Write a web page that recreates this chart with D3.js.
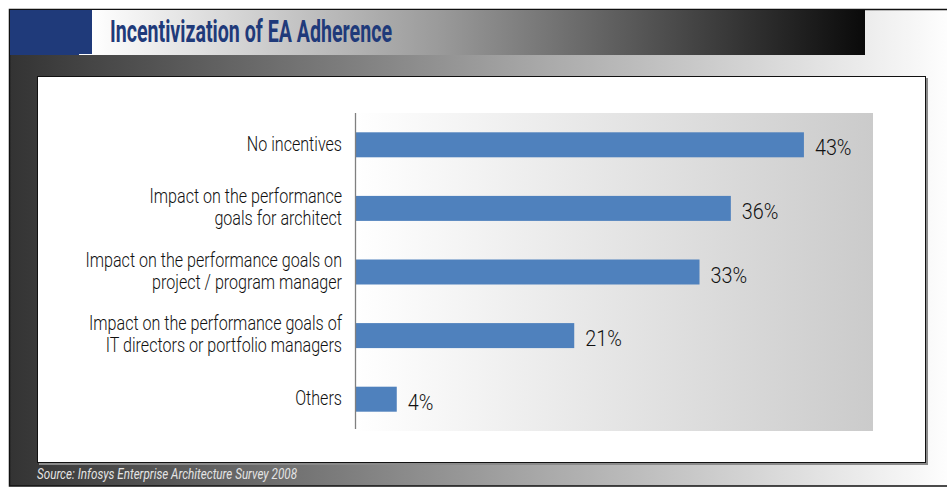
<!DOCTYPE html>
<html>
<head>
<meta charset="utf-8">
<script src="https://cdn.jsdelivr.net/npm/d3@7"></script>
<style>
  html, body { margin: 0; padding: 0; background: #ffffff; }
  svg { display: block; }
  .cond { font-family: Roboto, "Liberation Sans", "DejaVu Sans", sans-serif; }
</style>
</head>
<body>
<svg id="chart" width="947" height="487"></svg>
<script>
// Survey answers, top to bottom
const categories = [
  "No incentives",
  "Impact on the performance goals for architect",
  "Impact on the performance goals on project / program manager",
  "Impact on the performance goals of IT directors or portfolio managers",
  "Others"
];
// How each category label wraps onto lines
const categoryLines = [
  ["No incentives"],
  ["Impact on the performance", "goals for architect"],
  ["Impact on the performance goals on", "project / program manager"],
  ["Impact on the performance goals of", "IT directors or portfolio managers"],
  ["Others"]
];
// Share of respondents (%)
const values = [43, 36, 33, 21, 4];
const valueLabels = ["43%", "36%", "33%", "21%", "4%"];

const titleText = "Incentivization of EA Adherence";
const sourceText = "Source: Infosys Enterprise Architecture Survey 2008";

// Horizontal squeeze that gives the regular face a condensed look
const LABEL_CONDENSE = 0.825;
const VALUE_CONDENSE = 0.92;
function condense(sel, factor) {
  sel.each(function () {
    const w = this.getComputedTextLength();
    d3.select(this).attr("textLength", w * factor).attr("lengthAdjust", "spacingAndGlyphs");
  });
}

const svg = d3.select("#chart");
const defs = svg.append("defs");

function hGradient(id, stops) {
  const g = defs.append("linearGradient").attr("id", id)
    .attr("x1", "0%").attr("y1", "0%").attr("x2", "100%").attr("y2", "0%");
  stops.forEach(([o, c]) => g.append("stop").attr("offset", o).attr("stop-color", c));
}
hGradient("bgGrad", [["0%", "#333333"], ["55%", "#a6a6a6"], ["100%", "#ffffff"]]);
hGradient("titleGrad", [["0%", "#ffffff"], ["45%", "#9a9a9a"], ["100%", "#0a0a0a"]]);
hGradient("plotGrad", [["0%", "#ffffff"], ["100%", "#cbcbcb"]]);

// Outer frame with the dark-to-light backdrop
svg.append("rect").attr("x", 9).attr("y", 9).attr("width", 946).attr("height", 477)
  .attr("fill", "url(#bgGrad)");
svg.append("path").attr("d", "M947,9.5 H9.5 V486 H947")
  .attr("fill", "none").attr("stroke", "#111").attr("stroke-width", 1.5);

// Title band
svg.append("rect").attr("x", 92).attr("y", 10).attr("width", 773).attr("height", 45)
  .attr("fill", "url(#titleGrad)");
svg.append("rect").attr("x", 10).attr("y", 10).attr("width", 82).attr("height", 45)
  .attr("fill", "#1f3a7a");
svg.append("rect").attr("x", 79).attr("y", 54).attr("width", 13).attr("height", 1)
  .attr("fill", "#ffffff");
svg.append("text").attr("class", "cond")
  .attr("x", 110).attr("y", 42)
  .attr("font-size", 31).attr("font-weight", "bold").attr("fill", "#1f3a7a")
  .attr("textLength", 282).attr("lengthAdjust", "spacingAndGlyphs")
  .text(titleText);

// White panel with a soft shadow
svg.append("rect").attr("x", 39).attr("y", 78).attr("width", 889).attr("height", 387)
  .attr("fill", "#8a8a8a");
svg.append("rect").attr("x", 37.5).attr("y", 76.5).attr("width", 888).attr("height", 386)
  .attr("fill", "#ffffff").attr("stroke", "#111").attr("stroke-width", 1);

// Source note
svg.append("text").attr("class", "cond")
  .attr("x", 37).attr("y", 479)
  .attr("font-size", 14.5).attr("font-style", "italic").attr("fill", "#e4e4e4")
  .attr("textLength", 260).attr("lengthAdjust", "spacingAndGlyphs")
  .text(sourceText);

// Plot area
const plot = { left: 355, top: 113, right: 873, bottom: 431 };

const x = d3.scaleLinear().domain([0, 50]).range([plot.left, plot.left + 522]);
const y = d3.scaleBand().domain(categories)
  .range([plot.top, plot.bottom])
  .paddingInner(0.607).paddingOuter(0.3035);

svg.append("rect")
  .attr("x", plot.left).attr("y", plot.top)
  .attr("width", plot.right - plot.left).attr("height", plot.bottom - plot.top)
  .attr("fill", "url(#plotGrad)");

// Bars
svg.append("g").selectAll("rect")
  .data(categories)
  .join("rect")
  .attr("x", x(0))
  .attr("y", d => y(d))
  .attr("width", (d, i) => x(values[i]) - x(0))
  .attr("height", y.bandwidth())
  .attr("fill", "#4f81bd");

// Category axis
const yAxis = svg.append("g")
  .attr("transform", `translate(${plot.left},0)`)
  .call(d3.axisLeft(y).tickSize(0).tickFormat(() => ""));
yAxis.select(".domain").attr("stroke", "#808080").attr("stroke-width", 1.3)
  .attr("d", `M0.5,${plot.top}V${plot.bottom - 2}`);

// Category labels (wrapped, one text per line)
const labelData = [];
categories.forEach((c, i) => {
  const lines = categoryLines[i];
  const cy = y(c) + y.bandwidth() / 2;
  lines.forEach((ln, j) => {
    labelData.push({ text: ln, y: cy + (j - (lines.length - 1) / 2) * 22 - 1 });
  });
});
svg.append("g").attr("class", "cond").selectAll("text")
  .data(labelData)
  .join("text")
  .attr("x", plot.left - 13)
  .attr("y", d => d.y)
  .attr("dy", "0.35em")
  .attr("text-anchor", "end")
  .attr("font-size", 19.5)
  .attr("font-weight", 300)
  .attr("fill", "#111")
  .text(d => d.text)
  .call(condense, LABEL_CONDENSE);

// Value labels
svg.append("g").attr("class", "cond").selectAll("text")
  .data(categories)
  .join("text")
  .attr("x", (d, i) => x(values[i]) + 11)
  .attr("y", d => y(d) + y.bandwidth() / 2 + 3)
  .attr("dy", "0.35em")
  .attr("font-size", 21.5)
  .attr("font-weight", 300)
  .attr("fill", "#111")
  .text((d, i) => valueLabels[i])
  .call(condense, VALUE_CONDENSE);
</script>
</body>
</html>
